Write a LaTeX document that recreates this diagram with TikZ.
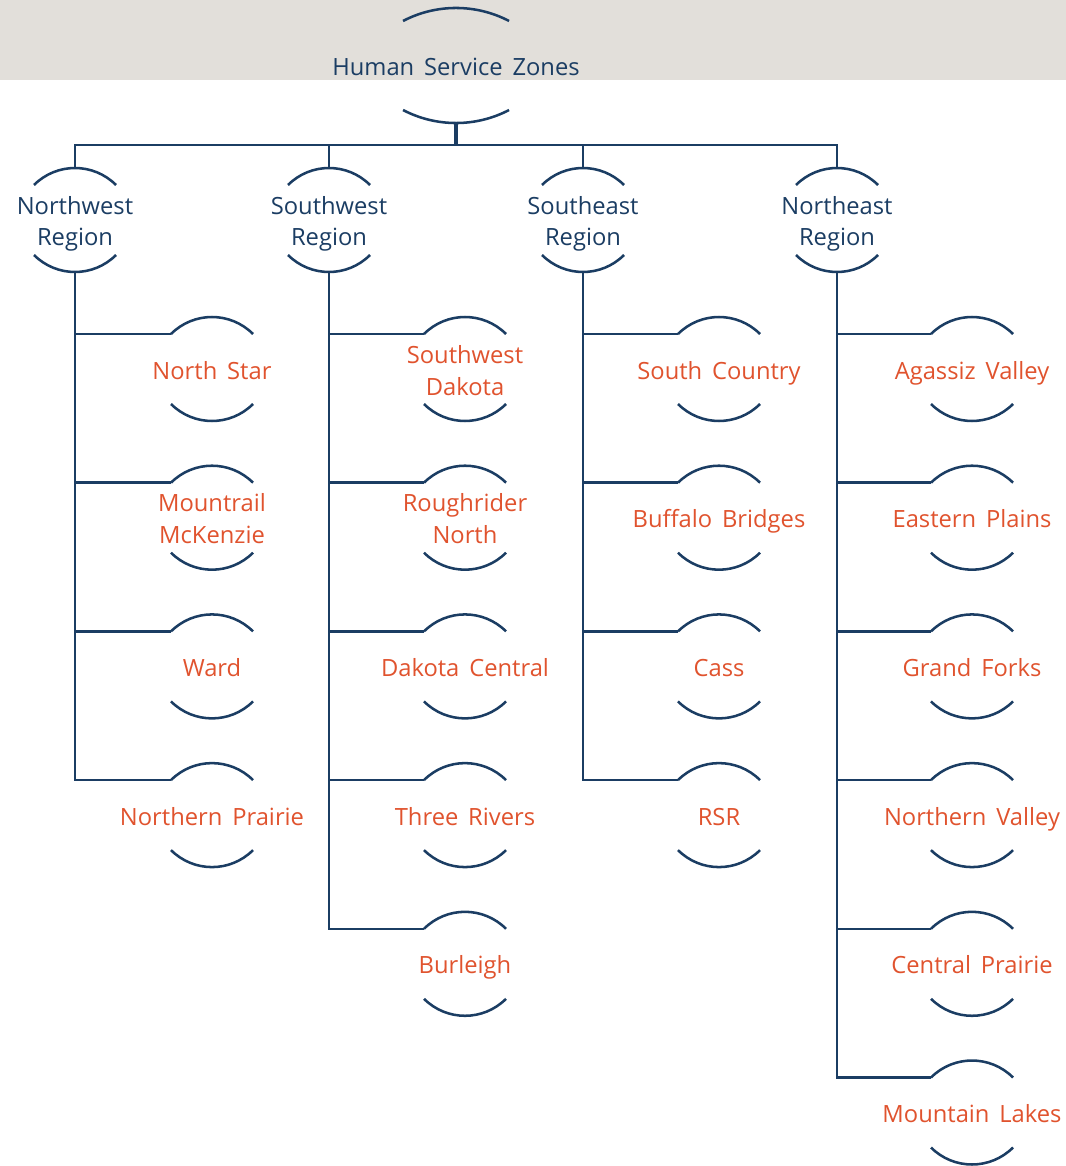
\documentclass[tikz,border=0pt]{standalone}
\usepackage{fontspec}
\setmainfont[WordSpace=1.6]{Open Sans}
\definecolor{navy}{HTML}{1B3D63}
\definecolor{zoneorange}{HTML}{E0532E}
\definecolor{band}{HTML}{E2DFDA}
\tikzset{
  arcline/.style={draw=navy, line width=1.9pt},
  conn/.style={draw=navy, line width=1.9pt, line join=miter},
  stem/.style={draw=navy, line width=2.8pt},
  txt/.style={font=\fontsize{17.8}{24}\selectfont, align=center, inner sep=0pt, anchor=base},
  regiontxt/.style={txt, text=navy},
  zonetxt/.style={txt, text=zoneorange},
}
% #1 name, #2 x, #3 y, #4 text, #5 style, #6 baseline offset (last line)
\newcommand{\zn}[6]{%
  \node[#5] (#1) at (#2,{#3+#6}) {#4};
  \coordinate (#1-top) at (#2,{#3-52});
  \coordinate (#1-bot) at (#2,{#3+52});
  \coordinate (#1-tl) at ({#2-41},{#3-35});
  \draw[arcline] (#1-tl) arc[start angle=225,end angle=315,radius=58];
  \draw[arcline] ({#2-41},{#3+35}) arc[start angle=135,end angle=45,radius=58];
}
\begin{document}
\begin{tikzpicture}[x=0.75pt,y=-0.75pt]
\useasboundingbox (0,0) rectangle (1066,1166);
\fill[band] (0,0) rectangle (1066,80);
% root
\node[regiontxt] (root) at (456,76) {Human Service Zones};
\coordinate (root-bot) at (456,122);
\coordinate (bus) at (456,145);
\draw[arcline] (403,21) arc[start angle=242.4,end angle=297.6,radius=114.5];
\draw[arcline] (403,110) arc[start angle=117.6,end angle=62.4,radius=114.5];
% regions
\zn{nw}{75}{220}{Northwest\\Region}{regiontxt}{26}
\zn{sw}{329}{220}{Southwest\\Region}{regiontxt}{26}
\zn{se}{583}{220}{Southeast\\Region}{regiontxt}{26}
\zn{ne}{837}{220}{Northeast\\Region}{regiontxt}{26}
% Northwest zones
\zn{nwa}{212}{369}{North Star}{zonetxt}{10}
\zn{nwb}{212}{517.7}{Mountrail\\McKenzie}{zonetxt}{26}
\zn{nwc}{212}{666.4}{Ward}{zonetxt}{10}
\zn{nwd}{212}{815.1}{Northern Prairie}{zonetxt}{10}
% Southwest zones
\zn{swa}{465}{369}{Southwest\\Dakota}{zonetxt}{26}
\zn{swb}{465}{517.7}{Roughrider\\North}{zonetxt}{26}
\zn{swc}{465}{666.4}{Dakota Central}{zonetxt}{10}
\zn{swd}{465}{815.1}{Three Rivers}{zonetxt}{10}
\zn{swe}{465}{963.8}{Burleigh}{zonetxt}{10}
% Southeast zones
\zn{sea}{719}{369}{South Country}{zonetxt}{10}
\zn{seb}{719}{517.7}{Buffalo Bridges}{zonetxt}{10}
\zn{sec}{719}{666.4}{Cass}{zonetxt}{10}
\zn{sed}{719}{815.1}{RSR}{zonetxt}{10}
% Northeast zones
\zn{nea}{972}{369}{Agassiz Valley}{zonetxt}{10}
\zn{neb}{972}{517.7}{Eastern Plains}{zonetxt}{10}
\zn{nec}{972}{666.4}{Grand Forks}{zonetxt}{10}
\zn{ned}{972}{815.1}{Northern Valley}{zonetxt}{10}
\zn{nee}{972}{963.8}{Central Prairie}{zonetxt}{10}
\zn{nef}{972}{1112.5}{Mountain Lakes}{zonetxt}{10}
% connectors
\draw[stem] (root-bot) -- (bus);
\draw[conn] (nw-top) -- (nw-top |- bus) -- (ne-top |- bus) -- (ne-top);
\draw[conn] (sw-top) -- (sw-top |- bus);
\draw[conn] (se-top) -- (se-top |- bus);
\foreach \c in {nwa,nwb,nwc,nwd} \draw[conn] (nw-bot) |- (\c-tl);
\foreach \c in {swa,swb,swc,swd,swe} \draw[conn] (sw-bot) |- (\c-tl);
\foreach \c in {sea,seb,sec,sed} \draw[conn] (se-bot) |- (\c-tl);
\foreach \c in {nea,neb,nec,ned,nee,nef} \draw[conn] (ne-bot) |- (\c-tl);
\end{tikzpicture}
\end{document}
